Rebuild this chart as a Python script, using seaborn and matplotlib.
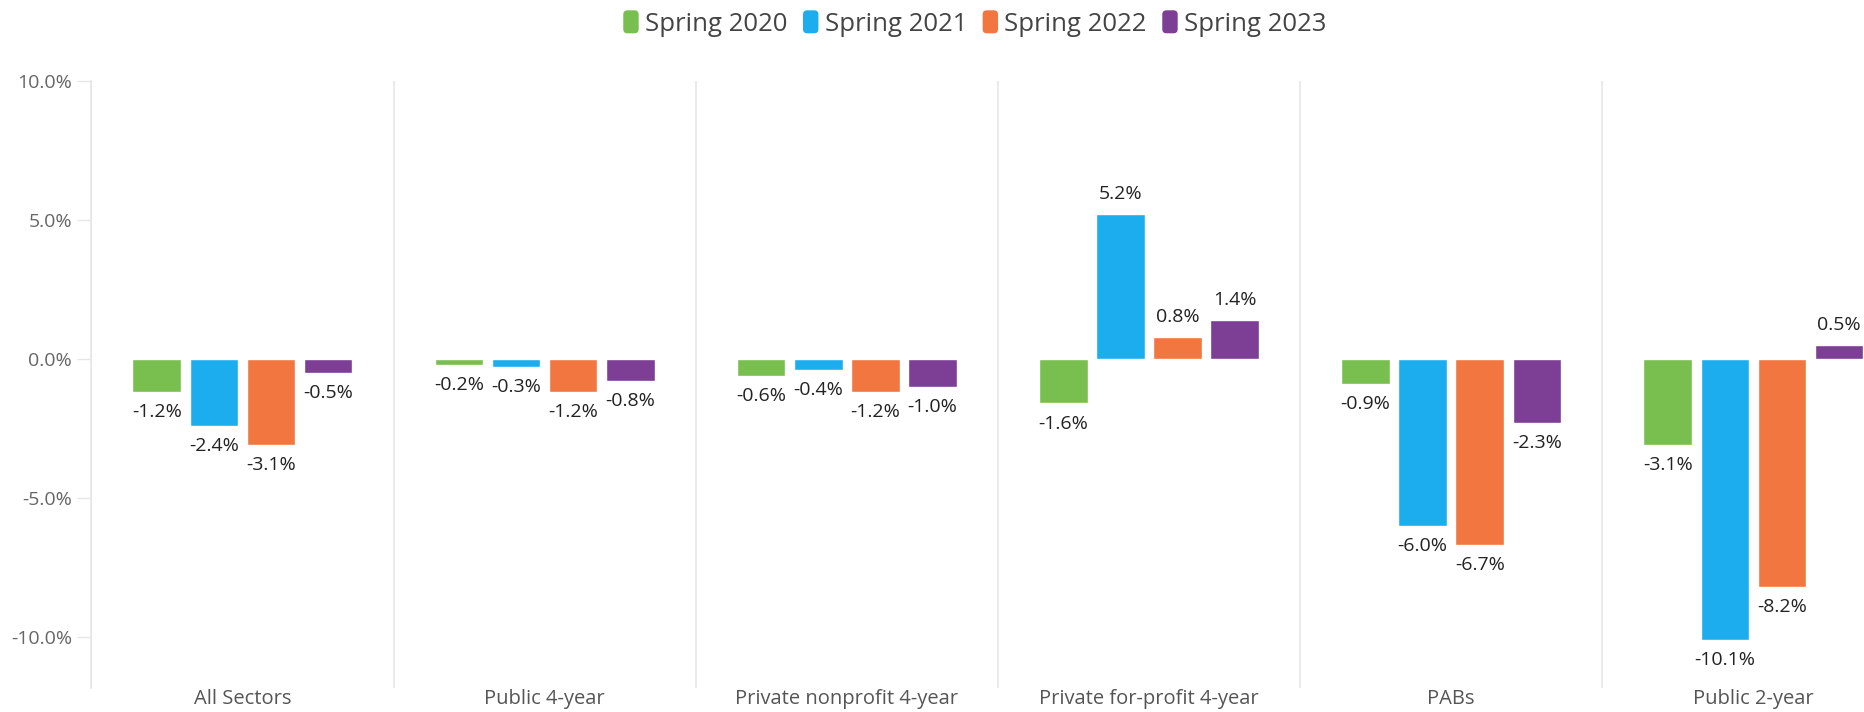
import pandas as pd
import matplotlib
matplotlib.use("Agg")
import matplotlib.pyplot as plt
import matplotlib.patches as mpatches
from matplotlib.legend_handler import HandlerPatch
import seaborn as sns

sns.set_theme(style="white")
plt.rcParams["font.family"] = ["Open Sans", "DejaVu Sans"]

# --- data ---
sectors = ["All Sectors", "Public 4-year", "Private nonprofit 4-year",
           "Private for-profit 4-year", "PABs", "Public 2-year"]
terms = ["Spring 2020", "Spring 2021", "Spring 2022", "Spring 2023"]
spring_2020 = [-1.2, -0.2, -0.6, -1.6, -0.9, -3.1]
spring_2021 = [-2.4, -0.3, -0.4, 5.2, -6.0, -10.1]
spring_2022 = [-3.1, -1.2, -1.2, 0.8, -6.7, -8.2]
spring_2023 = [-0.5, -0.8, -1.0, 1.4, -2.3, 0.5]
y_ticks = [-10, -5, 0, 5, 10]

PALETTE = ["#79BF4F", "#1CADEE", "#F1763F", "#7D3E96"]
GRID = "#E6E6E6"

rows = []
for term, vals in zip(terms, [spring_2020, spring_2021, spring_2022, spring_2023]):
    for s, v in zip(sectors, vals):
        rows.append({"Sector": s, "Term": term, "Change": v})
df = pd.DataFrame(rows)

fig = plt.figure(figsize=(18.64, 7.12), dpi=100)
ax = fig.add_axes([0.049, 0.034, 0.951, 0.8525])

sns.barplot(data=df, x="Sector", y="Change", hue="Term", order=sectors, hue_order=terms,
            palette=PALETTE, width=0.756, gap=0.15, errorbar=None, legend=False,
            saturation=1, ax=ax)

for cont in ax.containers:
    vals = [b.get_height() for b in cont]
    ax.bar_label(cont, labels=[f"{v:.1f}%" for v in vals], padding=8,
                 fontsize=14, color="#222222", fontweight=500)

ax.set_yticks(y_ticks)
ax.set_yticklabels([f"{t:.1f}%" for t in y_ticks])
ax.set_xticks(range(len(sectors)))
ax.set_xticklabels(sectors)
ax.set_xticks([i - 0.5 for i in range(len(sectors) + 1)], minor=True)
# limits after the ticks, otherwise the minor ticks widen the view
ax.set_ylim(-11.82, 10)
ax.set_xlim(-0.5, 5.366)
ax.grid(axis="x", which="minor", color=GRID, linewidth=1.2)
ax.grid(axis="x", which="major", visible=False)
ax.grid(axis="y", visible=False)
ax.set_xlabel("")
ax.set_ylabel("")

for side in ["top", "right", "bottom"]:
    ax.spines[side].set_visible(False)
ax.spines["left"].set_color(GRID)
ax.spines["left"].set_linewidth(1.2)
ax.tick_params(axis="y", which="major", left=True, length=10, width=1, color=GRID,
               labelsize=14, labelcolor="#666666", pad=4)
ax.tick_params(axis="x", which="both", bottom=False, length=0, labelsize=14.5,
               labelcolor="#555555", pad=1)


class RoundHandler(HandlerPatch):
    def create_artists(self, legend, orig_handle, xdescent, ydescent, width, height, fontsize, trans):
        p = mpatches.FancyBboxPatch((-xdescent, -ydescent), width, height,
                                    boxstyle="round,pad=0,rounding_size=3",
                                    facecolor=orig_handle.get_facecolor(), edgecolor="none",
                                    transform=trans)
        return [p]


handles = [mpatches.Patch(facecolor=c, label=t) for c, t in zip(PALETTE, terms)]
fig.legend(handles=handles, loc="upper center", bbox_to_anchor=(0.523, 1.018), ncol=4,
           frameon=False, fontsize=18.5, handlelength=0.6, handleheight=1.0,
           handletextpad=0.25, columnspacing=0.6, labelcolor="#444444",
           handler_map={mpatches.Patch: RoundHandler()})

plt.savefig("out.png", dpi=100)
plt.close()
